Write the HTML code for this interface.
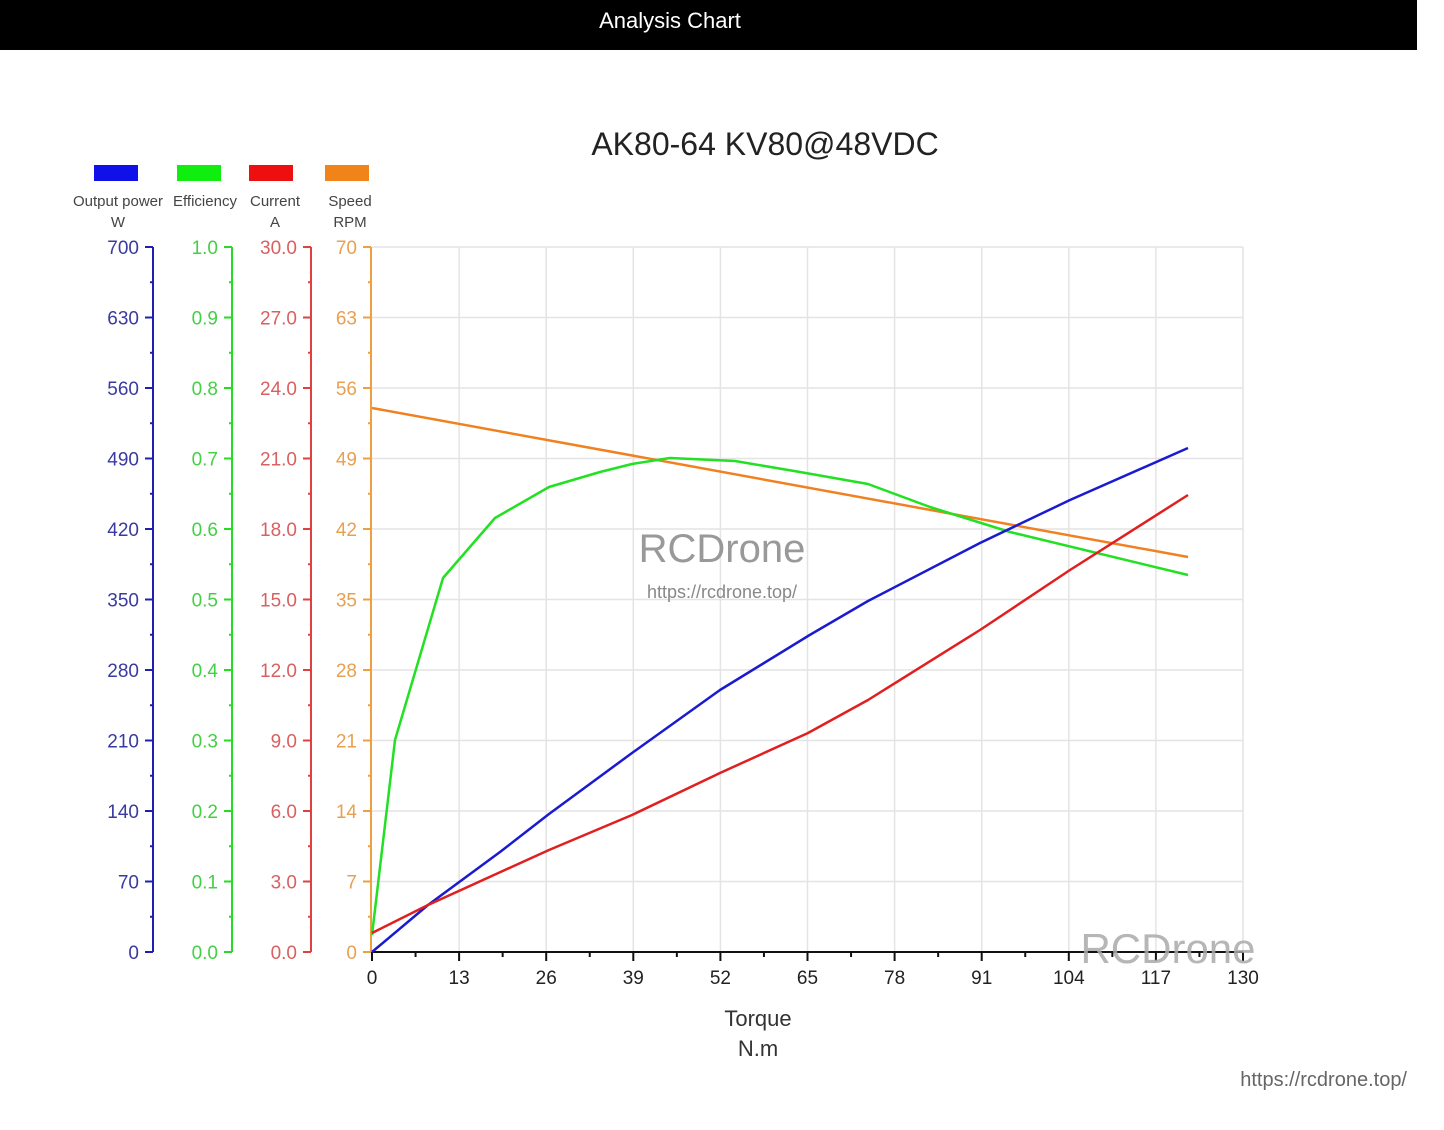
<!DOCTYPE html>
<html><head><meta charset="utf-8"><style>
body{margin:0;background:#fff;width:1444px;height:1125px;overflow:hidden;font-family:"Liberation Sans","DejaVu Sans",sans-serif}
</style></head><body>
<svg id="s" width="1444" height="1125" xmlns="http://www.w3.org/2000/svg" font-family="Liberation Sans, DejaVu Sans, sans-serif">
<rect x="0" y="0" width="1417" height="50" fill="#000"/>
<text x="670" y="28" fill="#fff" font-size="22" text-anchor="middle">Analysis Chart</text>
<text x="765" y="155" fill="#222" font-size="32" text-anchor="middle">AK80-64 KV80@48VDC</text>
<rect x="94" y="165" width="44" height="16" fill="#1010e8"/>
<rect x="177" y="165" width="44" height="16" fill="#10ee10"/>
<rect x="249" y="165" width="44" height="16" fill="#ee1010"/>
<rect x="325" y="165" width="44" height="16" fill="#f08418"/>
<g font-size="15" fill="#444" text-anchor="middle">
<text x="118" y="206">Output power</text><text x="118" y="227">W</text>
<text x="205" y="206">Efficiency</text>
<text x="275" y="206">Current</text><text x="275" y="227">A</text>
<text x="350" y="206">Speed</text><text x="350" y="227">RPM</text>
</g>
<g id="g"></g>
<text x="722" y="562" fill="#999" font-size="40" text-anchor="middle">RCDrone</text>
<text x="722" y="598" fill="#888" font-size="18" text-anchor="middle">https://rcdrone.top/</text>
<text x="1168" y="963" fill="#aaa" font-size="42" text-anchor="middle" opacity="0.85">RCDrone</text>
<text x="758" y="1026" fill="#333" font-size="22" text-anchor="middle">Torque</text>
<text x="758" y="1056" fill="#333" font-size="22" text-anchor="middle">N.m</text>
<text x="1407" y="1086" fill="#666" font-size="20" text-anchor="end">https://rcdrone.top/</text>
</svg>
<script>
const g=document.getElementById('g');let h='';
const X0=372,X1=1243,Y0=952,Y1=247,dy=(Y0-Y1)/10,dx=(X1-X0)/10;
for(let i=1;i<=10;i++){let y=Y0-i*dy;h+=`<line x1="${X0}" y1="${y}" x2="${X1}" y2="${y}" stroke="#e4e4e4" stroke-width="1.5"/>`;
let x=X0+i*dx;h+=`<line x1="${x}" y1="${Y1}" x2="${x}" y2="${Y0}" stroke="#e4e4e4" stroke-width="1.5"/>`;}
const axes=[[153,'#2020b0','#3a3aa0',i=>String(i*70)],[232,'#22dd22','#44d044',i=>(i/10).toFixed(1)],[311,'#e04040','#d86060',i=>(i*3).toFixed(1)],[371,'#eea040','#e8a050',i=>String(i*7)]];
for(const [ax,lc,tc,f] of axes){h+=`<line x1="${ax}" y1="${Y1}" x2="${ax}" y2="${Y0}" stroke="${lc}" stroke-width="2"/>`;
for(let i=0;i<=10;i++){let y=Y0-i*dy;h+=`<line x1="${ax-8}" y1="${y}" x2="${ax}" y2="${y}" stroke="${lc}" stroke-width="2"/><text x="${ax-14}" y="${y+7}" fill="${tc}" font-size="19" text-anchor="end">${f(i)}</text>`;
if(i<10)h+=`<line x1="${ax-3}" y1="${y-dy/2}" x2="${ax}" y2="${y-dy/2}" stroke="${lc}" stroke-width="2"/>`;}}
h+=`<line x1="${X0}" y1="${Y0}" x2="${X1}" y2="${Y0}" stroke="#111" stroke-width="2"/>`;
for(let i=0;i<=10;i++){let x=X0+i*dx;h+=`<line x1="${x}" y1="${Y0}" x2="${x}" y2="${Y0+9}" stroke="#111" stroke-width="2"/><text x="${x}" y="${Y0+32}" fill="#222" font-size="19" text-anchor="middle">${i*13}</text>`;
if(i<10)h+=`<line x1="${x+dx/2}" y1="${Y0}" x2="${x+dx/2}" y2="${Y0+5}" stroke="#111" stroke-width="2"/>`;}
const P=(c,pts)=>`<polyline fill="none" stroke="${c}" stroke-width="2.5" stroke-linejoin="round" points="${pts}"/>`;
h+=P('#f08020','372,408 1188,557');
h+=P('#22e022','372,935 395,740 443,578 495,518 549,487 600,472 632,464 670,458 735,461 800,472 868,484 930,507 1010,532 1188,575');
h+=P('#1a1ad0','372,952 428,905 500,852 549,814 632,753 720,690 808,636 868,601 980,543 1070,500 1188,448');
h+=P('#e02020','372,933 428,905 549,850 632,815 720,773 808,733 868,700 980,630 1070,570 1188,495');
g.innerHTML=h;
</script>
</body></html>
